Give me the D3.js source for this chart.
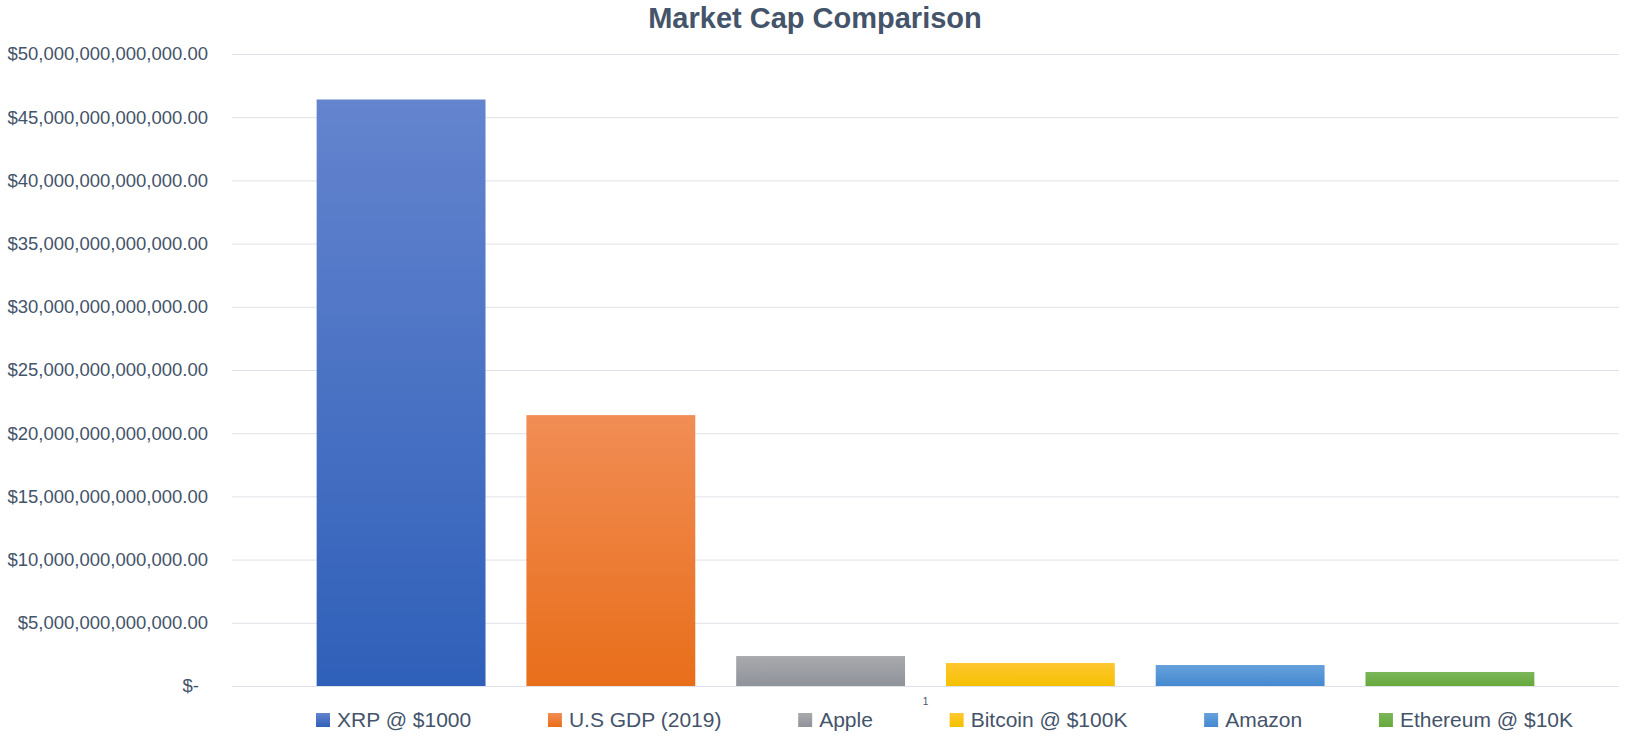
<!DOCTYPE html>
<html>
<head>
<meta charset="utf-8">
<script src="https://cdn.jsdelivr.net/npm/d3@7"></script>
<style>
  html, body { margin: 0; padding: 0; background: #fff; }
  svg { display: block; font-family: "Liberation Sans", Arial, sans-serif; }
</style>
</head>
<body>
<svg id="chart" width="1630" height="752"></svg>
<script>
const categories = ['1'];
const seriesNames = ['XRP @ $1000', 'U.S GDP (2019)', 'Apple', 'Bitcoin @ $100K', 'Amazon', 'Ethereum @ $10K'];
const seriesValues = [46.4e12, 21.43e12, 2.37e12, 1.82e12, 1.66e12, 1.11e12];
const seriesTop = ['#6484ce', '#f18d55', '#a9aaad', '#ffc732', '#66a1dc', '#7bb65a'];
const seriesBottom = ['#2f60b9', '#e86e1a', '#8f939a', '#f5c000', '#4589cf', '#67a93c'];
const yTicks = [0, 5e12, 10e12, 15e12, 20e12, 25e12, 30e12, 35e12, 40e12, 45e12, 50e12];

const textColor = '#44546a';
const svg = d3.select('#chart');

const margin = { left: 232, right: 1619, top: 54, bottom: 686 };

const y = d3.scaleLinear().domain([0, 50e12]).range([margin.bottom, margin.top]);
const x0 = d3.scaleBand().domain(categories).range([margin.left, margin.right]).paddingOuter(0.051);
const x1 = d3.scaleBand().domain(seriesNames).range([0, x0.bandwidth()])
  .paddingInner(0.195).paddingOuter(0.0975);

// gradients
const defs = svg.append('defs');
seriesNames.forEach((s, i) => {
  const g = defs.append('linearGradient')
    .attr('id', 'grad' + i)
    .attr('x1', 0).attr('y1', 0).attr('x2', 0).attr('y2', 1);
  g.append('stop').attr('offset', '0%').attr('stop-color', seriesTop[i]);
  g.append('stop').attr('offset', '100%').attr('stop-color', seriesBottom[i]);
});

// title
svg.append('text')
  .attr('x', 815)
  .attr('y', 28)
  .attr('text-anchor', 'middle')
  .attr('fill', textColor)
  .style('font-size', '29px')
  .style('font-weight', 'bold')
  .text('Market Cap Comparison');

// y axis with gridlines
const fmt = d3.format('$,.2f');
const yAxis = svg.append('g')
  .attr('transform', `translate(${margin.left},0)`)
  .call(d3.axisLeft(y)
    .tickValues(yTicks)
    .tickSize(-(margin.right - margin.left))
    .tickPadding(24)
    .tickFormat(d => d === 0 ? '$-' : fmt(d)));

yAxis.select('.domain').remove();
yAxis.selectAll('.tick line')
  .attr('stroke', '#e1e1e9')
  .attr('stroke-width', 1);
yAxis.selectAll('.tick text')
  .attr('fill', textColor)
  .attr('dx', d => d === 0 ? -9 : 0)
  .style('font-size', '18.5px');

// bars
const groups = svg.append('g')
  .selectAll('g')
  .data(categories)
  .join('g')
  .attr('transform', d => `translate(${x0(d)},0)`);

groups.selectAll('rect')
  .data(() => seriesNames.map((s, i) => ({ name: s, value: seriesValues[i], idx: i })))
  .join('rect')
  .attr('x', d => x1(d.name))
  .attr('y', d => y(d.value))
  .attr('width', x1.bandwidth())
  .attr('height', d => y(0) - y(d.value))
  .attr('fill', d => `url(#grad${d.idx})`);

// category axis (single "1" label)
const xAxis = svg.append('g')
  .attr('transform', `translate(0,${margin.bottom})`)
  .call(d3.axisBottom(x0).tickSize(0).tickPadding(12));
xAxis.select('.domain').remove();
xAxis.selectAll('.tick text')
  .attr('fill', textColor)
  .style('font-size', '10px');

// legend
const legend = svg.append('g');
const items = legend.selectAll('g')
  .data(seriesNames)
  .join('g');

items.append('rect')
  .attr('width', 14)
  .attr('height', 14)
  .attr('y', 713)
  .attr('fill', (d, i) => `url(#grad${i})`);

items.append('text')
  .attr('x', 21)
  .attr('y', 727)
  .attr('fill', textColor)
  .style('font-size', '21px')
  .text(d => d);

// spread items between the legend's left and right ends
const legendLeft = 316, legendRight = 1573;
const widths = [];
items.each(function() {
  widths.push(21 + d3.select(this).select('text').node().getComputedTextLength());
});
const gap = (legendRight - legendLeft - d3.sum(widths)) / (widths.length - 1);
let cx = legendLeft;
items.each(function(d, i) {
  d3.select(this).attr('transform', `translate(${cx},0)`);
  cx += widths[i] + gap;
});
</script>
</body>
</html>
